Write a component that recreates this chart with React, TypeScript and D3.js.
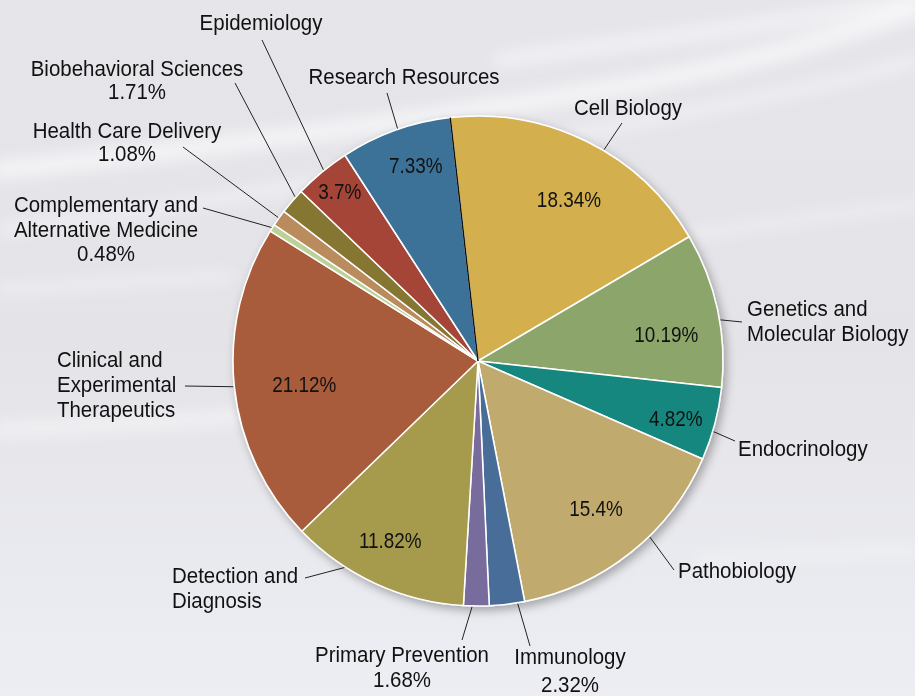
import React from 'react';
import * as d3 from 'd3';

const categories = [
  "Cell Biology",
  "Genetics and Molecular Biology",
  "Endocrinology",
  "Pathobiology",
  "Immunology",
  "Primary Prevention",
  "Detection and Diagnosis",
  "Clinical and Experimental Therapeutics",
  "Complementary and Alternative Medicine",
  "Health Care Delivery",
  "Biobehavioral Sciences",
  "Epidemiology",
  "Research Resources",
];
const values = [18.34, 10.19, 4.82, 15.4, 2.32, 1.68, 11.82, 21.12, 0.48, 1.08, 1.71, 3.7, 7.33];
const colors = ["#d3b04e", "#8ba56b", "#17877e", "#c1aa6e", "#4a6d99", "#776c9c", "#a69a4d", "#a95c3a", "#bcd198", "#b98b5d", "#857733", "#a44438", "#3d7298"];

// label layout (positions only): text position, leader end, leader attach angle offset (deg),
// inside label radius factor and angle offset (deg)
type Lay = { lines: string[]; anchor: string; x: number; ys: number[]; ex: number; ey: number; eo: number; inside: boolean; ir?: number; io?: number };
const layout: Record<string, Lay> = {
  "Cell Biology": { lines: ["Cell Biology"], anchor: "middle", x: 628, ys: [115], ex: 622, ey: 123, eo: 4.3, inside: true, ir: 0.758, io: 2.8 },
  "Genetics and Molecular Biology": { lines: ["Genetics and", "Molecular Biology"], anchor: "start", x: 747, ys: [316, 341], ex: 742, ey: 322, eo: 2.5, inside: true, ir: 0.776, io: 4 },
  "Endocrinology": { lines: ["Endocrinology"], anchor: "start", x: 738, ys: [456], ex: 735, ey: 441, eo: 1.8, inside: true, ir: 0.84, io: 1.2 },
  "Pathobiology": { lines: ["Pathobiology"], anchor: "start", x: 678, ys: [578], ex: 674, ey: 570, eo: -5.6, inside: true, ir: 0.77, io: 0 },
  "Immunology": { lines: ["Immunology", "PCT"], anchor: "middle", x: 570, ys: [664, 692], ex: 530, ey: 646, eo: -2.5, inside: false },
  "Primary Prevention": { lines: ["Primary Prevention", "PCT"], anchor: "middle", x: 402, ys: [662, 687], ex: 462, ey: 640, eo: 1, inside: false },
  "Detection and Diagnosis": { lines: ["Detection and", "Diagnosis"], anchor: "start", x: 172, ys: [583, 608], ex: 305, ey: 578, eo: 8.2, inside: true, ir: 0.814, io: 1.4 },
  "Clinical and Experimental Therapeutics": { lines: ["Clinical and", "Experimental", "Therapeutics"], anchor: "start", x: 57, ys: [367, 392, 417], ex: 185, ey: 386, eo: 0, inside: true, ir: 0.715, io: -1.4 },
  "Complementary and Alternative Medicine": { lines: ["Complementary and", "Alternative Medicine", "PCT"], anchor: "middle", x: 106, ys: [212, 237, 261], ex: 203, ey: 208, eo: 0, inside: false },
  "Health Care Delivery": { lines: ["Health Care Delivery", "PCT"], anchor: "middle", x: 127, ys: [138, 161], ex: 183, ey: 147, eo: 0, inside: false },
  "Biobehavioral Sciences": { lines: ["Biobehavioral Sciences", "PCT"], anchor: "middle", x: 137, ys: [76, 99], ex: 235, ey: 83, eo: 1.2, inside: false },
  "Epidemiology": { lines: ["Epidemiology"], anchor: "middle", x: 261, ys: [30], ex: 262, ey: 40, eo: 0.6, inside: true, ir: 0.894, io: 0.4 },
  "Research Resources": { lines: ["Research Resources"], anchor: "middle", x: 404, ys: [84], ex: 387, ey: 93, eo: 0.6, inside: true, ir: 0.84, io: 2.1 },
};

const W = 915, H = 696;
const cx = 478, cy = 361, R = 245;
const FONT = "'Liberation Sans', Arial, Helvetica, sans-serif";
const DEG = Math.PI / 180;

export default function App() {
  const data = categories.map((c, i) => ({ name: c, value: values[i], color: colors[i] }));
  const startA = -6.5 * DEG;
  const pie = d3.pie<any>().value((d: any) => d.value).sort(null).startAngle(startA).endAngle(startA + 2 * Math.PI);
  const arcs = pie(data);
  const arc = d3.arc<any>().innerRadius(0).outerRadius(R);
  const pt = (a: number, r: number) => [cx + r * Math.sin(a), cy - r * Math.cos(a)];

  const txt = (key: string, s: string, x: number, y: number, anchor: string, sx: number) => (
    <text key={key} transform={`translate(${x},${y}) scale(${sx},1)`} textAnchor={anchor as any}
      fontFamily={FONT} fontSize={22} fill="#111">{s}</text>
  );

  return (
    <svg width={W} height={H} style={{ position: 'absolute', left: 0, top: 0 }}>
      <defs>
        <linearGradient id="bg" x1="0" y1="0" x2="0" y2="1">
          <stop offset="0" stopColor="#e6e5ea" />
          <stop offset="0.5" stopColor="#e4e3e8" />
          <stop offset="1" stopColor="#eceef3" />
        </linearGradient>
        <filter id="blur" x="-20%" y="-50%" width="140%" height="200%">
          <feGaussianBlur stdDeviation="8" />
        </filter>
        <filter id="shadow" x="-20%" y="-20%" width="140%" height="140%">
          <feDropShadow dx="3" dy="4" stdDeviation="5" floodColor="#000" floodOpacity="0.3" />
        </filter>
      </defs>
      <rect x={0} y={0} width={W} height={H} fill="url(#bg)" />
      <g filter="url(#blur)" fill="none" stroke="#ffffff" strokeLinecap="round">
        <path d="M 0 170 C 200 150, 420 120, 600 90 S 850 30, 915 10" strokeWidth={18} opacity={0.6} />
        <path d="M 0 230 C 250 200, 500 150, 700 110 S 880 70, 915 60" strokeWidth={10} opacity={0.5} />
        <path d="M 500 60 C 650 40, 800 20, 915 0" strokeWidth={14} opacity={0.5} />
        <path d="M 600 250 C 720 230, 830 215, 915 205" strokeWidth={10} opacity={0.4} />
        <path d="M 0 430 C 120 425, 200 420, 260 415" strokeWidth={16} opacity={0.45} />
        <path d="M 700 560 C 780 555, 850 552, 915 550" strokeWidth={12} opacity={0.35} />
        <path d="M 0 290 C 80 285, 160 280, 230 276" strokeWidth={10} opacity={0.45} />
      </g>
      <g filter="url(#shadow)">
        {arcs.map((a, i) => (
          <path key={i} d={arc(a) as string} transform={`translate(${cx},${cy})`} fill={a.data.color} stroke="#fff" strokeWidth={1.5} strokeLinejoin="round" />
        ))}
      </g>
      {(() => {
        const [x1, y1] = pt(arcs[0].startAngle, R);
        return <line x1={cx} y1={cy} x2={x1} y2={y1} stroke="#111" strokeWidth={1.5} />;
      })()}
      {arcs.map((a, i) => {
        const L = layout[a.data.name];
        const mid = (a.startAngle + a.endAngle) / 2;
        const [px, py] = pt(mid + L.eo * DEG, R + 1);
        const pct = `${a.data.value}%`;
        const els: any[] = [];
        els.push(<line key={`l${i}`} x1={px} y1={py} x2={L.ex} y2={L.ey} stroke="#222" strokeWidth={1} />);
        L.lines.forEach((s, j) => {
          els.push(txt(`t${i}-${j}`, s === "PCT" ? pct : s, L.x, L.ys[j], L.anchor, 0.93));
        });
        if (L.inside) {
          const r = (L.ir ?? 0.77) * R;
          const [ix, iy] = pt(mid + (L.io ?? 0) * DEG, r);
          els.push(txt(`p${i}`, pct, ix, iy + 8, "middle", 0.86));
        }
        return <g key={i}>{els}</g>;
      })}
    </svg>
  );
}
